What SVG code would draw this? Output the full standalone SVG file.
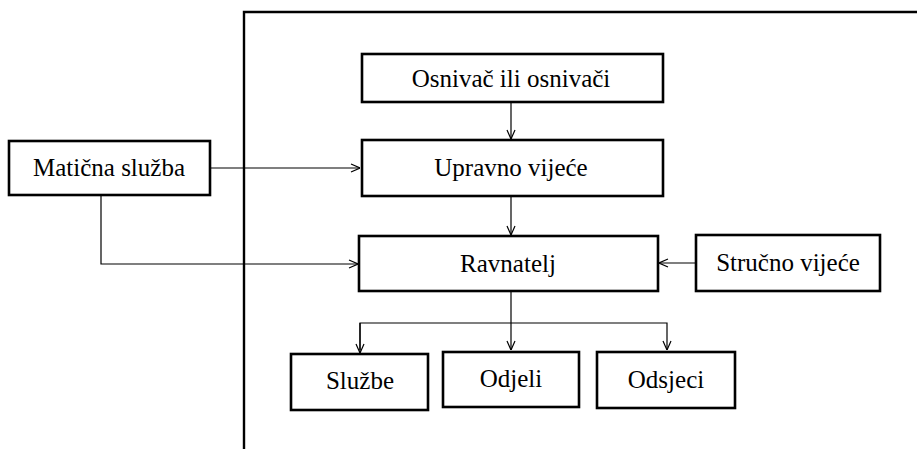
<svg xmlns="http://www.w3.org/2000/svg" width="917" height="449" viewBox="0 0 917 449">
<style>
.box{fill:#fff;stroke:#000;stroke-width:2.6}
.t{font-family:'Liberation Serif','DejaVu Serif',serif;font-size:25px;fill:#000;text-anchor:middle}
.c{fill:none;stroke:#000;stroke-width:1.2}
.frame{fill:none;stroke:#000;stroke-width:2.4}
</style>
<defs>
<marker id="ah" viewBox="0 0 10 10" refX="10" refY="5" markerWidth="10" markerHeight="10" markerUnits="userSpaceOnUse" orient="auto">
<path d="M1,1 L10,5 L1,9" fill="none" stroke="#000" stroke-width="1.2"/>
</marker>
</defs>
<path class="frame" d="M244,449 V12 H917"/>
<g id="connectors">
<path class="c" d="M511,102 V139" marker-end="url(#ah)"/>
<path class="c" d="M210,168 H360" marker-end="url(#ah)"/>
<path class="c" d="M101,195 V264 H358" marker-end="url(#ah)"/>
<path class="c" d="M511,196 V235" marker-end="url(#ah)"/>
<path class="c" d="M696,263 H659" marker-end="url(#ah)"/>
<path class="c" d="M511,291 V350" marker-end="url(#ah)"/>
<path class="c" d="M360,350 V323 H667 V350" marker-end="url(#ah)"/>
<path class="c" d="M360,323 V353" marker-end="url(#ah)"/>
</g>
<g id="osnivac"><rect class="box" x="362" y="54" width="301" height="48"/><text class="t" font-family="Liberation Serif, serif" x="511" y="87">Osnivač ili osnivači</text></g>
<g id="upravno"><rect class="box" x="362" y="140" width="301" height="56"/><text class="t" x="511" y="176">Upravno vijeće</text></g>
<g id="maticna"><rect class="box" x="9" y="141" width="201" height="54"/><text class="t" x="109" y="176">Matična služba</text></g>
<g id="ravnatelj"><rect class="box" x="359" y="236" width="299" height="55"/><text class="t" x="508" y="272">Ravnatelj</text></g>
<g id="strucno"><rect class="box" x="696" y="235" width="184" height="56"/><text class="t" x="788" y="271">Stručno vijeće</text></g>
<g id="sluzbe"><rect class="box" x="291" y="354" width="137" height="56"/><text class="t" x="360" y="389">Službe</text></g>
<g id="odjeli"><rect class="box" x="443" y="352" width="136" height="55"/><text class="t" x="511" y="387">Odjeli</text></g>
<g id="odsjeci"><rect class="box" x="597" y="352" width="138" height="56"/><text class="t" x="666" y="388">Odsjeci</text></g>
</svg>
